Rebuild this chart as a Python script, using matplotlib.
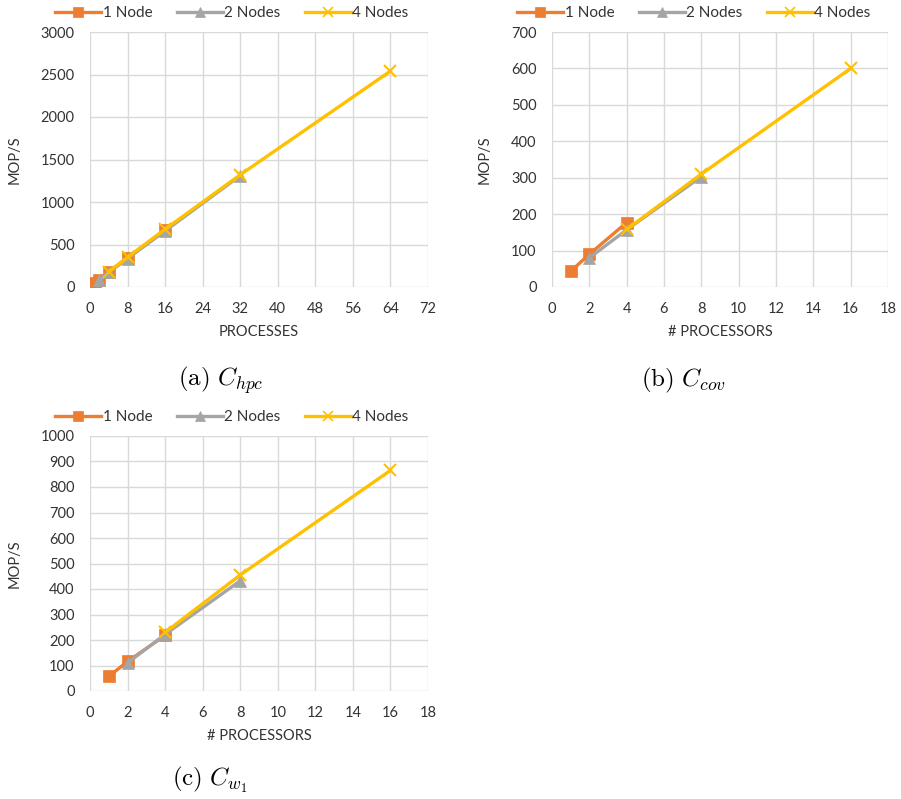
import matplotlib.pyplot as plt
from matplotlib.lines import Line2D

plt.rcParams['font.family'] = ['Lato', 'DejaVu Sans']
plt.rcParams['mathtext.fontset'] = 'cm'

# (a) C_hpc
a_x1 = [1, 2, 4, 8, 16]
a_y1 = [45, 88, 178, 345, 670]
a_x2 = [2, 4, 8, 16, 32]
a_y2 = [88, 172, 335, 660, 1310]
a_x4 = [4, 8, 16, 32, 64]
a_y4 = [180, 350, 680, 1320, 2540]

# (b) C_cov
b_x1 = [1, 2, 4]
b_y1 = [43, 90, 177]
b_x2 = [2, 4, 8]
b_y2 = [80, 157, 303]
b_x4 = [4, 8, 16]
b_y4 = [158, 310, 600]

# (c) C_w1
c_x1 = [1, 2, 4]
c_y1 = [57, 116, 218]
c_x2 = [2, 4, 8]
c_y2 = [110, 222, 432]
c_x4 = [4, 8, 16]
c_y4 = [230, 455, 865]

labels = ['1 Node', '2 Nodes', '4 Nodes']
colors = ['#ED7D31', '#A5A5A5', '#FFC000']
markers = ['s', '^', 'x']

fig = plt.figure(figsize=(9.01, 7.99), dpi=100)


def panel(rect, series, xticks, yticks, xlabel, caption, cap_xy, leg_xy):
    ax = fig.add_axes(rect)
    for (x, y), c, m, lab in zip(series, colors, markers, labels):
        ax.plot(x, y, color=c, marker=m, markersize=9, lw=2.4, label=lab,
                markeredgewidth=1.5 if m == 'x' else 0.5)
    ax.set_xlim(xticks[0], xticks[-1])
    ax.set_ylim(yticks[0], yticks[-1])
    ax.set_xticks(xticks)
    ax.set_yticks(yticks)
    ax.grid(True, color='#d9d9d9', lw=1)
    ax.set_axisbelow(True)
    for s in ax.spines.values():
        s.set_visible(False)
    ax.tick_params(length=0, labelsize=10.5, colors='#333333')
    ax.tick_params(axis='y', pad=11)
    ax.tick_params(axis='x', pad=11)
    ax.set_xlabel(xlabel, fontsize=10.5, color='#333333', labelpad=6)
    ax.set_ylabel('MOP/S', fontsize=10.5, color='#333333', labelpad=14)
    handles = [Line2D([], [], color=c, marker=m, lw=2.4, markersize=6.5,
                      markeredgewidth=1.2 if m == 'x' else 0.5)
               for c, m in zip(colors, markers)]
    fig.legend(handles, labels, loc='center', bbox_to_anchor=leg_xy, ncol=3,
               frameon=False, fontsize=11, handlelength=3.0, columnspacing=1.6,
               handletextpad=0.1, labelcolor='#333333')
    fig.text(cap_xy[0], cap_xy[1], caption, fontsize=18, ha='center', va='center')
    return ax


panel([90 / 901, 1 - 287 / 799, 338 / 901, 255 / 799],
      [(a_x1, a_y1), (a_x2, a_y2), (a_x4, a_y4)],
      list(range(0, 73, 8)), list(range(0, 3001, 500)), 'PROCESSES',
      r'$\mathrm{(a)}\ C_{hpc}$', (221 / 901, 1 - 380 / 799), (232 / 901, 1 - 13 / 799))

panel([552 / 901, 1 - 287 / 799, 336 / 901, 255 / 799],
      [(b_x1, b_y1), (b_x2, b_y2), (b_x4, b_y4)],
      list(range(0, 19, 2)), list(range(0, 701, 100)), '# PROCESSORS',
      r'$\mathrm{(b)}\ C_{cov}$', (683 / 901, 1 - 380 / 799), (694 / 901, 1 - 13 / 799))

panel([90 / 901, 1 - 691 / 799, 338 / 901, 255 / 799],
      [(c_x1, c_y1), (c_x2, c_y2), (c_x4, c_y4)],
      list(range(0, 19, 2)), list(range(0, 1001, 100)), '# PROCESSORS',
      r'$\mathrm{(c)}\ C_{w_1}$', (210 / 901, 1 - 780 / 799), (232 / 901, 1 - 417 / 799))

fig.savefig('out.png', dpi=100)
